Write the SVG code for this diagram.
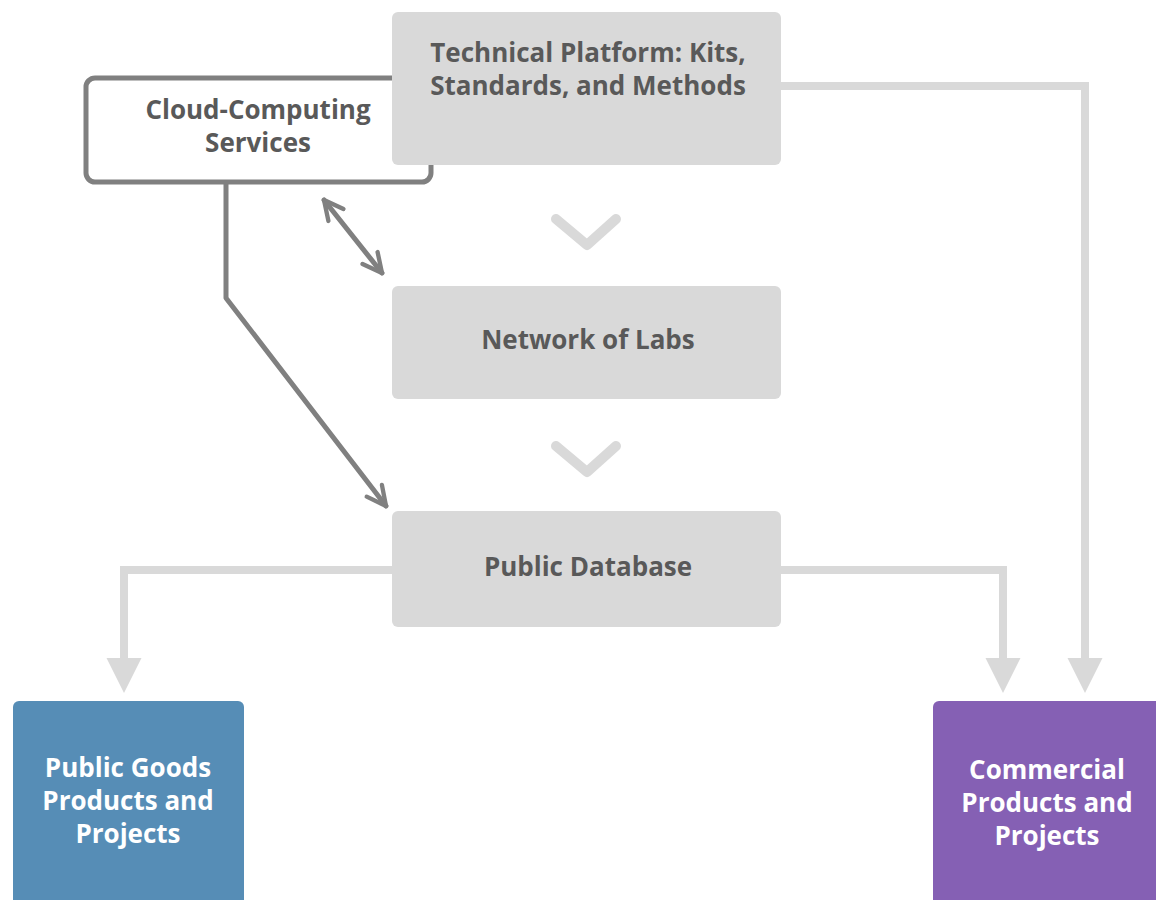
<svg xmlns="http://www.w3.org/2000/svg" width="1156" height="900" viewBox="0 0 1156 900">
<style>
.t{font-family:"Open Sans","Liberation Sans",sans-serif;font-weight:bold;font-size:26px;fill:#595959;text-anchor:middle}
.w{fill:#ffffff}
.gbox{fill:#d9d9d9}
.lc{fill:none;stroke:#d9d9d9;stroke-width:8}
.dc{fill:none;stroke:#808080;stroke-width:5;stroke-linecap:round;stroke-linejoin:round}
.chev{fill:none;stroke:#d9d9d9;stroke-width:10;stroke-linecap:round;stroke-linejoin:round}
</style>
<defs>
<marker id="tri" viewBox="0 0 10 10" refX="0" refY="5" markerUnits="userSpaceOnUse" markerWidth="35" markerHeight="41" orient="auto">
<path d="M0,0 L10,5 L0,10 Z" fill="#d9d9d9"/>
</marker>
<marker id="open" viewBox="0 0 10 10" refX="9" refY="5" markerUnits="userSpaceOnUse" markerWidth="24" markerHeight="28" orient="auto-start-reverse">
<path d="M1,1 L9,5 L1,9" fill="none" stroke="#808080" stroke-width="1.8" stroke-linecap="round" stroke-linejoin="round"/>
</marker>
</defs>
<rect width="1156" height="900" fill="#ffffff"/>
<g id="connectors">
<path class="lc" d="M781,86 H1085 V658" marker-end="url(#tri)"/>
<path class="lc" d="M781,570 H1003 V658" marker-end="url(#tri)"/>
<path class="lc" d="M392,570 H124 V658" marker-end="url(#tri)"/>
<path class="chev" d="M556,219 L587,245 L616,219"/>
<path class="chev" d="M556,446 L587,472 L616,446"/>
<path class="dc" d="M324,200 L382,273" marker-start="url(#open)" marker-end="url(#open)"/>
<path class="dc" d="M226,182 V298 L386,506" marker-end="url(#open)"/>
</g>
<g id="cloud">
<rect x="86" y="78" width="345" height="104" rx="9" fill="#ffffff" stroke="#808080" stroke-width="5"/>
<text class="t" x="258" y="119">Cloud-Computing</text>
<text class="t" x="258" y="152">Services</text>
</g>
<g id="technical">
<rect class="gbox" x="392" y="12" width="389" height="153" rx="6"/>
<text class="t" x="588" y="62">Technical Platform: Kits,</text>
<text class="t" x="588" y="95">Standards, and Methods</text>
</g>
<g id="labs">
<rect class="gbox" x="392" y="286" width="389" height="113" rx="6"/>
<text class="t" x="588" y="349">Network of Labs</text>
</g>
<g id="database">
<rect class="gbox" x="392" y="511" width="389" height="116" rx="6"/>
<text class="t" x="588" y="576">Public Database</text>
</g>
<g id="publicgoods">
<rect x="13" y="701" width="231" height="210" rx="6" fill="#568db6"/>
<text class="t w" x="128" y="777">Public Goods</text>
<text class="t w" x="128" y="810">Products and</text>
<text class="t w" x="128" y="843">Projects</text>
</g>
<g id="commercial">
<rect x="933" y="701" width="240" height="210" rx="6" fill="#8560b4"/>
<text class="t w" x="1047" y="779">Commercial</text>
<text class="t w" x="1047" y="812">Products and</text>
<text class="t w" x="1047" y="845">Projects</text>
</g>
</svg>
